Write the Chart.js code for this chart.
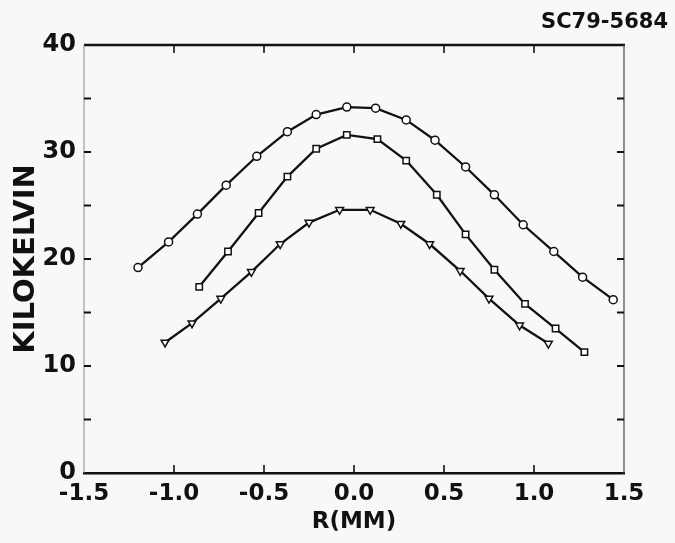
<!DOCTYPE html>
<html>
<head>
<meta charset="utf-8">
<script src="https://cdn.jsdelivr.net/npm/chart.js@4"></script>
<style>
  html, body { margin: 0; padding: 0; background: #f8f8f6; }
  #wrap { position: relative; width: 675px; height: 543px; }
  canvas { display: block; }
</style>
</head>
<body>
<div id="wrap"><canvas id="c" width="675" height="543"></canvas></div>
<script>
// ---- Data ----
const xTicks = [-1.5, -1.0, -0.5, 0.0, 0.5, 1.0, 1.5];
const yTicks = [0, 10, 20, 30, 40];
const yMinorTicks = [5, 10, 15, 20, 25, 30, 35];

const topX = [-1.20, -1.03, -0.87, -0.71, -0.54, -0.37, -0.21, -0.04, 0.12, 0.29, 0.45, 0.62, 0.78, 0.94, 1.11, 1.27, 1.44];
const topY = [19.2, 21.6, 24.2, 26.9, 29.6, 31.9, 33.5, 34.2, 34.1, 33.0, 31.1, 28.6, 26.0, 23.2, 20.7, 18.3, 16.2];

const midX = [-0.86, -0.70, -0.53, -0.37, -0.21, -0.04, 0.13, 0.29, 0.46, 0.62, 0.78, 0.95, 1.12, 1.28];
const midY = [17.4, 20.7, 24.3, 27.7, 30.3, 31.6, 31.2, 29.2, 26.0, 22.3, 19.0, 15.8, 13.5, 11.3];

const botX = [-1.05, -0.90, -0.74, -0.57, -0.41, -0.25, -0.08, 0.09, 0.26, 0.42, 0.59, 0.75, 0.92, 1.08];
const botY = [12.2, 14.0, 16.3, 18.8, 21.4, 23.4, 24.6, 24.6, 23.3, 21.4, 18.9, 16.3, 13.8, 12.1];

const figureId = "SC79-5684";
const xTitle = "R(MM)";
const yTitle = "KILOKELVIN";

function pts(xs, ys) { return xs.map((x, i) => ({ x: x, y: ys[i] })); }

const FONT = "'DejaVu Sans', 'Liberation Sans', sans-serif";
const INK = '#111';

// Frame, inward ticks and figure id drawn through the chart's scales
const framePlugin = {
  id: 'frame',
  beforeDatasetsDraw(chart) {
    const { ctx, chartArea: a, scales } = chart;
    const xs = scales.x, ys = scales.y;
    ctx.save();
    ctx.strokeStyle = INK;
    ctx.lineCap = 'butt';
    // top border (thick)
    ctx.lineWidth = 2.5;
    ctx.beginPath(); ctx.moveTo(a.left, a.top); ctx.lineTo(a.right + 1, a.top); ctx.stroke();
    // left border (thin, faint)
    ctx.strokeStyle = '#888';
    ctx.lineWidth = 1;
    ctx.beginPath(); ctx.moveTo(a.left, a.top); ctx.lineTo(a.left, a.bottom); ctx.stroke();
    // right border (thin)
    ctx.strokeStyle = '#555';
    ctx.lineWidth = 1.3;
    ctx.beginPath(); ctx.moveTo(a.right, a.top); ctx.lineTo(a.right, a.bottom); ctx.stroke();

    ctx.strokeStyle = INK;
    ctx.lineWidth = 1.6;
    // x ticks inward, top and bottom
    xTicks.forEach(v => {
      if (v === xTicks[0] || v === xTicks[xTicks.length - 1]) return;
      const px = xs.getPixelForValue(v);
      ctx.beginPath(); ctx.moveTo(px, a.bottom); ctx.lineTo(px, a.bottom - 8); ctx.stroke();
      ctx.beginPath(); ctx.moveTo(px, a.top); ctx.lineTo(px, a.top + 8); ctx.stroke();
    });
    // y ticks inward, left and right
    ctx.lineWidth = 2;
    yMinorTicks.forEach(v => {
      const py = ys.getPixelForValue(v);
      ctx.beginPath(); ctx.moveTo(a.left, py); ctx.lineTo(a.left + 7, py); ctx.stroke();
      ctx.beginPath(); ctx.moveTo(a.right, py); ctx.lineTo(a.right - 7, py); ctx.stroke();
    });
    ctx.restore();
  },
  afterDraw(chart) {
    const { ctx } = chart;
    ctx.save();
    ctx.fillStyle = INK;
    ctx.font = "bold 21px " + FONT;
    ctx.textAlign = 'right';
    ctx.textBaseline = 'alphabetic';
    ctx.fillText(figureId, 668, 28);
    ctx.restore();
  }
};

const lineStyle = {
  borderColor: INK,
  borderWidth: 2.3,
  pointBackgroundColor: '#fff',
  pointBorderColor: INK,
  pointBorderWidth: 1.5,
  tension: 0,
  fill: false
};

new Chart(document.getElementById('c'), {
  type: 'line',
  data: {
    datasets: [
      Object.assign({ label: 'upper', data: pts(topX, topY), pointStyle: 'circle', pointRadius: 4 }, lineStyle),
      Object.assign({ label: 'middle', data: pts(midX, midY), pointStyle: 'rect', pointRadius: 4.5 }, lineStyle),
      Object.assign({ label: 'lower', data: pts(botX, botY), pointStyle: 'triangle', pointRotation: 180, pointRadius: 4.5 }, lineStyle)
    ]
  },
  options: {
    responsive: false,
    animation: false,
    layout: { padding: { left: 0, right: 51, top: 45, bottom: 0 } },
    plugins: { legend: { display: false }, tooltip: { enabled: false } },
    scales: {
      x: {
        type: 'linear',
        min: -1.5, max: 1.5,
        afterFit(s) { s.height = 70; },
        afterBuildTicks(s) { s.ticks = xTicks.map(v => ({ value: v })); },
        grid: { display: false, drawTicks: false },
        border: { display: true, color: INK, width: 2.5 },
        ticks: {
          padding: 7,
          color: INK,
          font: { family: FONT, size: 23, weight: 'bold' },
          maxRotation: 0,
          autoSkip: false,
          callback: v => v.toFixed(1)
        },
        title: {
          display: true, text: xTitle, color: INK,
          font: { family: FONT, size: 23, weight: 'bold' },
          padding: { top: 0, bottom: 7 }
        }
      },
      y: {
        type: 'linear',
        min: 0, max: 40,
        afterFit(s) { s.width = 84; },
        afterBuildTicks(s) { s.ticks = yTicks.map(v => ({ value: v })); },
        grid: { display: false, drawTicks: false },
        border: { display: false },
        ticks: {
          padding: 8,
          color: INK,
          font: { family: FONT, size: 24, weight: 'bold' },
          callback: v => String(v)
        },
        title: {
          display: true, text: yTitle, color: INK,
          font: { family: FONT, size: 29, weight: 'bold' },
          padding: { top: 9, bottom: 0 }
        }
      }
    }
  },
  plugins: [framePlugin]
});
</script>
</body>
</html>
